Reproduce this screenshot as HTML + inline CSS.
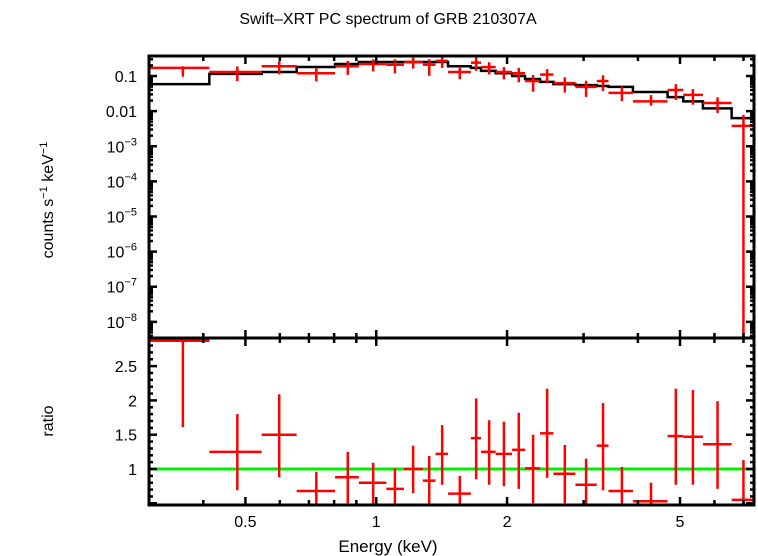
<!DOCTYPE html>
<html><head><meta charset="utf-8"><style>
body{margin:0;background:#fff;}
svg{display:block;font-family:"Liberation Sans",sans-serif;}
</style></head><body>
<svg id="c" width="758" height="556" viewBox="0 0 758 556">
<text x="388" y="24" text-anchor="middle" font-size="16">Swift–XRT PC spectrum of GRB 210307A</text>
<text x="388" y="552" text-anchor="middle" font-size="17">Energy (keV)</text>
<text transform="translate(53,200) rotate(-90)" text-anchor="middle" font-size="16">counts s<tspan dy="-6" font-size="11">−1</tspan><tspan dy="6"> keV</tspan><tspan dy="-6" font-size="11">−1</tspan></text>
<text transform="translate(53,421) rotate(-90)" text-anchor="middle" font-size="16">ratio</text>
<g id="g"></g>
</svg>
<script>
const binLo=[0.302,0.413,0.545,0.656,0.804,0.912,1.055,1.158,1.280,1.369,1.463,1.651,1.742,1.883,2.054,2.200,2.382,2.557,2.873,3.217,3.423,3.896,4.681,5.087,5.646,6.573];
const binHi=[0.413,0.545,0.656,0.804,0.912,1.055,1.158,1.280,1.369,1.463,1.651,1.742,1.883,2.054,2.200,2.382,2.557,2.873,3.217,3.423,3.896,4.681,5.087,5.646,6.573,7.5];
const energy=[0.359,0.479,0.598,0.728,0.860,0.984,1.104,1.216,1.324,1.418,1.557,1.698,1.819,1.967,2.128,2.296,2.473,2.716,3.040,3.326,3.675,4.288,4.890,5.354,6.100,6.997];
const counts=[0.17,0.13,0.19,0.12,0.19,0.22,0.21,0.25,0.21,0.27,0.13,0.24,0.18,0.13,0.12,0.072,0.11,0.063,0.049,0.072,0.033,0.019,0.040,0.029,0.017,0.0038];
const model=[0.059,0.115,0.13,0.18,0.22,0.25,0.25,0.25,0.25,0.25,0.19,0.17,0.14,0.12,0.10,0.082,0.068,0.059,0.055,0.052,0.049,0.035,0.025,0.019,0.012,0.0063];
const ratio=[2.87,1.25,1.50,0.68,0.88,0.80,0.71,1.00,0.83,1.22,0.64,1.45,1.25,1.22,1.28,1.01,1.52,0.93,0.77,1.34,0.68,0.53,1.48,1.47,1.36,0.55];
const ratioHi=[3.2,1.80,2.09,0.96,1.25,1.09,1.01,1.34,1.19,1.64,0.90,2.03,1.71,1.69,1.82,1.50,2.17,1.35,1.15,1.96,1.03,0.80,2.17,2.15,1.99,1.13];
const ratioLo=[1.61,0.69,0.88,0.40,0.50,0.49,0.40,0.65,0.40,0.77,0.40,0.85,0.77,0.75,0.71,0.50,0.87,0.50,0.40,0.69,0.40,0.40,0.77,0.77,0.71,0];
const xTicks=[0.5,1,2,5];
const xTickLabels=["0.5","1","2","5"];
const yTicksTop=[0.1,0.01,1e-3,1e-4,1e-5,1e-6,1e-7,1e-8];
const yTickLabelsTop=["0.1","0.01","10|−3","10|−4","10|−5","10|−6","10|−7","10|−8"];
const yTicksRatio=[1,1.5,2,2.5];
const yTickLabelsRatio=["1","1.5","2","2.5"];

const L=149,R=754,T=56,M=338,B=505;
const X0=0.30,X1=7.4;
const sx=e=>L+(Math.log10(e)-Math.log10(X0))/(Math.log10(X1)-Math.log10(X0))*(R-L);
const YT0=-8.46,YT1=-0.43;
const syT=v=>{let l=v>0?Math.log10(v):-20;let y=M-(l-YT0)/(YT1-YT0)*(M-T);return Math.max(T,Math.min(M,y));};
const RB0=0.475,RB1=2.91;
const syR=v=>{let y=B-(v-RB0)/(RB1-RB0)*(B-M);return Math.max(M,Math.min(B,y));};
const cx=v=>Math.max(L,Math.min(R,v));
const g=document.getElementById('g');
const NS='http://www.w3.org/2000/svg';
function mk(tag,at){const e=document.createElementNS(NS,tag);for(const k in at)e.setAttribute(k,at[k]);g.appendChild(e);return e;}
function line(x1,y1,x2,y2,col,w){return mk('line',{x1,y1,x2,y2,stroke:col,'stroke-width':w});}

// model step
let d='';
for(let i=0;i<model.length;i++){const x1=cx(sx(binLo[i])),x2=cx(sx(binHi[i])),y=syT(model[i]);d+=(i?'L':'M')+x1+','+y+'L'+x2+','+y;}
let mp=mk('path',{d,fill:'none',stroke:'#000','stroke-width':2.5});



// data
for(let i=0;i<counts.length;i++){
  const x=sx(energy[i]),x1=cx(sx(binLo[i])),x2=cx(sx(binHi[i]));
  const y=syT(counts[i]);
  const hi=counts[i]*ratioHi[i]/ratio[i],lo=counts[i]*ratioLo[i]/ratio[i];
  let a=line(x1,y,x2,y,'#f00',2.5);
  
  
  let b=line(x,syT(hi),x,syT(lo),'#f00',2.5);
  
  
}
// ratio line
let gl=line(L,syR(1),R,syR(1),'#0e0',3);


for(let i=0;i<ratio.length;i++){
  const x=sx(energy[i]),x1=cx(sx(binLo[i])),x2=cx(sx(binHi[i]));
  const y=syR(ratio[i]);
  let a=line(x1,y,x2,y,'#f00',2.5);
  
  
  let b=line(x,syR(ratioHi[i]),x,syR(ratioLo[i]),'#f00',2.5);
  
  
}
// frames
let f1=mk('rect',{x:L,y:T,width:R-L,height:M-T,fill:'none',stroke:'#000','stroke-width':3});


let f2=mk('rect',{x:L,y:M,width:R-L,height:B-M,fill:'none',stroke:'#000','stroke-width':3});


// x ticks
const minors=[0.4,0.6,0.7,0.8,0.9,3,4,6,7];
for(const e of xTicks.concat(minors)){
  const x=sx(e),len=xTicks.includes(e)?8:5;
  for(const [y,dir] of [[T,1],[M,-1],[M,1],[B,-1]]) line(x,y,x,y+dir*len,'#000',2.5);
}
xTicks.forEach((e,i)=>{const t=mk('text',{x:sx(e),y:527,'text-anchor':'middle','font-size':16});t.textContent=xTickLabels[i];

});
// top y ticks
for(let p=-9;p<0;p++){for(let k=1;k<10;k++){const v=k*Math.pow(10,p);const l=Math.log10(v);if(l<YT0||l>YT1)continue;const y=syT(v),len=k==1?8:4;line(L,y,L+len,y,'#000',2.5);line(R,y,R-len,y,'#000',2.5);}}
yTicksTop.forEach((v,i)=>{const t=mk('text',{x:137,y:syT(v)+6,'text-anchor':'end','font-size':16});const p=yTickLabelsTop[i].split('|');
if(p.length==1)t.textContent=p[0];else{t.textContent=p[0];const s=document.createElementNS(NS,'tspan');s.setAttribute('dy','-7');s.setAttribute('font-size','11');s.textContent=p[1];t.appendChild(s);}

});
// ratio y ticks
for(let v=0.5;v<=2.9;v+=0.1){const r=Math.round(v*10)/10;const y=syR(r);const len=(Math.round(r*10)%5==0)?8:4;line(L,y,L+len,y,'#000',2.5);line(R,y,R-len,y,'#000',2.5);}
yTicksRatio.forEach((v,i)=>{const t=mk('text',{x:137,y:syR(v)+6,'text-anchor':'end','font-size':16});t.textContent=yTickLabelsRatio[i];

});
</script>
</body></html>
